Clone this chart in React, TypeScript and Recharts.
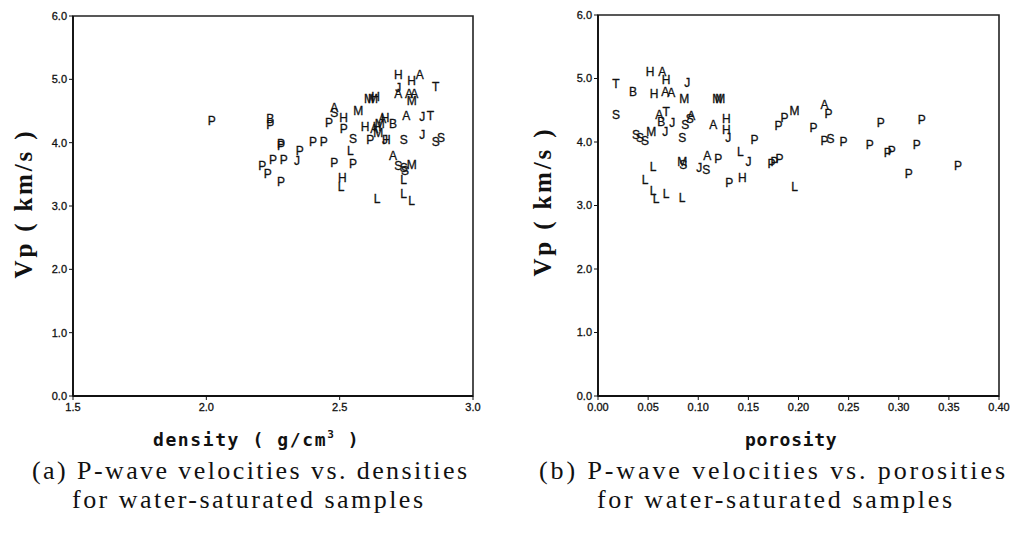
import { ScatterChart, Scatter, XAxis, YAxis, ReferenceArea } from 'recharts'

// (a) Vp vs density, each point labelled with its rock-type letter
const densityRock = [
  'P', 'B', 'P', 'P', 'P', 'P', 'J', 'P', 'P', 'P', 'P', 'P', 'P', 'P',
  'A', 'S', 'P', 'H', 'P', 'M', 'S', 'L', 'P', 'P', 'H', 'L', 'L',
  'M', 'M', 'H', 'H', 'A', 'H', 'T', 'J', 'A', 'A', 'A', 'M',
  'A', 'J', 'T', 'J', 'S', 'S', 'B', 'H', 'A', 'M', 'H', 'A', 'M', 'H',
  'P', 'H', 'J', 'S', 'A', 'S', 'S', 'M', 'S', 'L', 'L', 'L',
]
const density = [
  2.02, 2.24, 2.24, 2.28, 2.28, 2.35, 2.34, 2.40, 2.44, 2.21, 2.25, 2.29, 2.23, 2.28,
  2.48, 2.48, 2.46, 2.515, 2.515, 2.57, 2.55, 2.54, 2.48, 2.55, 2.51, 2.505, 2.64,
  2.61, 2.625, 2.635, 2.72, 2.80, 2.77, 2.86, 2.72, 2.72, 2.76, 2.78, 2.77,
  2.75, 2.81, 2.84, 2.81, 2.88, 2.86, 2.70, 2.67, 2.66, 2.65, 2.64, 2.63, 2.645, 2.595,
  2.615, 2.675, 2.67, 2.74, 2.70, 2.72, 2.74, 2.77, 2.745, 2.74, 2.74, 2.77,
]
const vpByDensity = [
  4.34, 4.38, 4.29, 3.98, 3.95, 3.88, 3.71, 4.01, 4.01, 3.63, 3.73, 3.73, 3.51, 3.38,
  4.56, 4.47, 4.31, 4.40, 4.22, 4.50, 4.06, 3.87, 3.68, 3.67, 3.45, 3.30, 3.12,
  4.70, 4.70, 4.72, 5.08, 5.08, 4.98, 4.89, 4.87, 4.78, 4.78, 4.77, 4.67,
  4.42, 4.41, 4.43, 4.12, 4.08, 4.02, 4.30, 4.40, 4.38, 4.30, 4.26, 4.22, 4.15, 4.25,
  4.04, 4.04, 4.05, 4.04, 3.80, 3.63, 3.60, 3.66, 3.55, 3.42, 3.20, 3.09,
]

// (b) Vp vs porosity
const porosityRock = [
  'T', 'B', 'S', 'H', 'A', 'H', 'J', 'H', 'A', 'A', 'M', 'M', 'M',
  'A', 'T', 'B', 'J', 'S', 'S', 'A', 'A', 'H', 'H', 'J', 'M', 'J',
  'S', 'S', 'S', 'S', 'L', 'L', 'L', 'L', 'L', 'L', 'M', 'S', 'J', 'S',
  'A', 'P', 'P', 'H', 'L', 'J', 'P', 'P', 'P', 'P', 'P', 'P', 'M',
  'A', 'P', 'P', 'P', 'S', 'P', 'P', 'P', 'P', 'P', 'P', 'P', 'P', 'P', 'L',
]
const porosity = [
  0.018, 0.035, 0.018, 0.052, 0.064, 0.068, 0.089, 0.056, 0.067, 0.073, 0.086, 0.119, 0.122,
  0.061, 0.068, 0.063, 0.074, 0.087, 0.0915, 0.093, 0.115, 0.128, 0.128, 0.130, 0.053, 0.067,
  0.038, 0.042, 0.047, 0.084, 0.055, 0.047, 0.055, 0.058, 0.068, 0.084, 0.084, 0.085, 0.101, 0.108,
  0.109, 0.120, 0.131, 0.144, 0.142, 0.150, 0.156, 0.173, 0.176, 0.181, 0.180, 0.186, 0.196,
  0.226, 0.230, 0.215, 0.226, 0.232, 0.245, 0.271, 0.282, 0.289, 0.293, 0.323, 0.318, 0.310, 0.359, 0.196,
]
const vpByPorosity = [
  4.92, 4.80, 4.43, 5.11, 5.11, 4.98, 4.94, 4.76, 4.79, 4.78, 4.68, 4.68, 4.68,
  4.43, 4.47, 4.32, 4.31, 4.27, 4.36, 4.42, 4.27, 4.36, 4.20, 4.07, 4.16, 4.16,
  4.12, 4.07, 4.02, 4.07, 3.61, 3.41, 3.23, 3.11, 3.19, 3.12, 3.69, 3.64, 3.60, 3.57,
  3.79, 3.73, 3.36, 3.44, 3.85, 3.69, 4.03, 3.66, 3.69, 3.73, 4.26, 4.39, 4.50,
  4.58, 4.44, 4.23, 4.02, 4.06, 4.01, 3.95, 4.31, 3.83, 3.86, 4.35, 3.96, 3.50, 3.62, 3.29,
]

const vpTicks = [0, 1, 2, 3, 4, 5, 6]
const densityTicks = [1.5, 2.0, 2.5, 3.0]
const porosityTicks = [0, 0.05, 0.1, 0.15, 0.2, 0.25, 0.3, 0.35, 0.4]

const densityData = density.map((x, i) => ({ x, vp: vpByDensity[i], rock: densityRock[i] }))
const porosityData = porosity.map((x, i) => ({ x, vp: vpByPorosity[i], rock: porosityRock[i] }))

const tickStyle = { fontSize: 11, fill: '#111', stroke: '#111', strokeWidth: 0.3, fontFamily: 'Liberation Sans, Arial, sans-serif' }
const axisLine = { stroke: '#111', strokeWidth: 1.8 }

// letter marker drawn at the point
function RockLetter(props: any) {
  const { cx, cy, payload } = props
  if (cx == null || cy == null) return null
  return (
    <text x={cx} y={cy} dy="0.36em" textAnchor="middle" fontSize={12} fill="#111"
      stroke="#111" strokeWidth={0.3} fontFamily="Liberation Sans, Arial, sans-serif">
      {payload.rock}
    </text>
  )
}

interface PanelProps {
  data: { x: number; vp: number; rock: string }[]
  xTicks: number[]
  xDigits: number
  left: number
  yAxisWidth: number
  marginRight: number
  marginTop: number
}

function Panel({ data, xTicks, xDigits, left, yAxisWidth, marginRight, marginTop }: PanelProps) {
  const x0 = xTicks[0]
  const x1 = xTicks[xTicks.length - 1]
  return (
    <div style={{ position: 'absolute', left, top: 0 }}>
      <ScatterChart width={505} height={420} margin={{ top: marginTop, right: marginRight, bottom: 0, left: 0 }}>
        <XAxis type="number" dataKey="x" domain={[x0, x1]} ticks={xTicks} height={24}
          tickFormatter={(v) => v.toFixed(xDigits)} tick={tickStyle} tickSize={4} tickMargin={3}
          axisLine={axisLine} tickLine={{ stroke: '#111' }} allowDataOverflow />
        <YAxis type="number" dataKey="vp" domain={[0, 6]} ticks={vpTicks} width={yAxisWidth}
          tickFormatter={(v) => v.toFixed(1)} tick={tickStyle} tickSize={4} tickMargin={2}
          axisLine={axisLine} tickLine={{ stroke: '#111' }} allowDataOverflow />
        <ReferenceArea x1={x0} x2={x1} y1={0} y2={6} fill="none" stroke="#222" strokeWidth={1.6} />
        <Scatter data={data} shape={RockLetter} isAnimationActive={false} />
      </ScatterChart>
    </div>
  )
}

const serif = 'Liberation Serif, Times New Roman, serif'
const mono = 'DejaVu Sans Mono, monospace'

export default function App() {
  return (
    <div style={{ position: 'absolute', left: 0, top: 0, width: 1015, height: 534, background: '#fff' }}>
      <Panel data={densityData} xTicks={densityTicks} xDigits={1} left={0} yAxisWidth={73} marginRight={32} marginTop={16} />
      <Panel data={porosityData} xTicks={porosityTicks} xDigits={2} left={510} yAxisWidth={88} marginRight={16} marginTop={15} />
      <svg width={1015} height={534} style={{ position: 'absolute', left: 0, top: 0, pointerEvents: 'none' }}>
        <text x={23} y={205} transform="rotate(-90 23 205)" textAnchor="middle" dominantBaseline="central"
          fontFamily={serif} fontWeight="bold" fontSize={25} textLength={147} fill="#111">Vp ( km/s )</text>
        <text x={542} y={203} transform="rotate(-90 542 203)" textAnchor="middle" dominantBaseline="central"
          fontFamily={serif} fontWeight="bold" fontSize={25} textLength={147} fill="#111">Vp ( km/s )</text>
        <text x={153} y={446} fontFamily={mono} fontWeight="bold" fontSize={18} letterSpacing={1.6} fill="#111">
          density ( g/cm<tspan fontSize={11} dy={-8}>3</tspan><tspan dy={8}> )</tspan>
        </text>
        <text x={745} y={446} fontFamily={mono} fontWeight="bold" fontSize={18} letterSpacing={0.7} fill="#111">porosity</text>
        <text x={32} y={479} fontFamily={serif} fontSize={26} textLength={435} fill="#111">(a) P-wave velocities vs. densities</text>
        <text x={72} y={508} fontFamily={serif} fontSize={26} textLength={351} fill="#111">for water-saturated samples</text>
        <text x={539} y={479} fontFamily={serif} fontSize={26} textLength={466} fill="#111">(b) P-wave velocities vs. porosities</text>
        <text x={597} y={508} fontFamily={serif} fontSize={26} textLength={355} fill="#111">for water-saturated samples</text>
      </svg>
    </div>
  )
}
